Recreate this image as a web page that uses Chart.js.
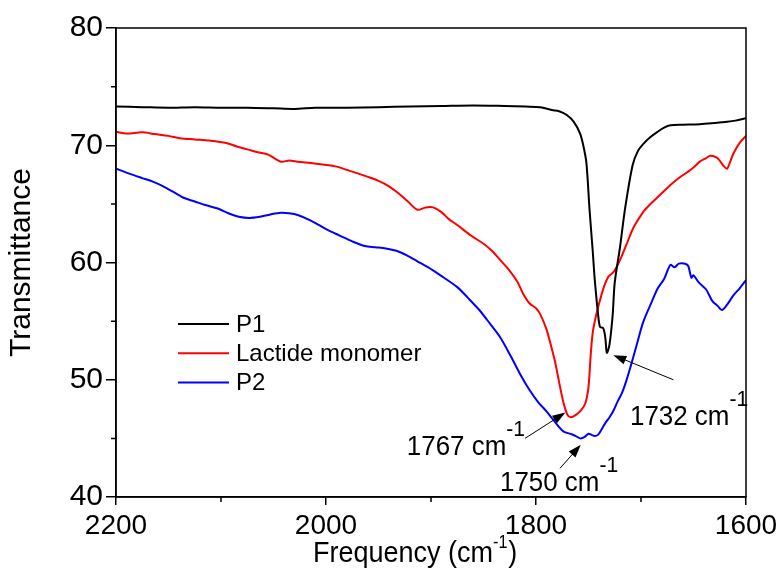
<!DOCTYPE html>
<html>
<head>
<meta charset="utf-8">
<script src="https://cdn.jsdelivr.net/npm/chart.js@4.4.1/dist/chart.umd.min.js"></script>
<style>
  html, body { margin: 0; padding: 0; background: #ffffff; }
  #wrap { width: 783px; height: 575px; }
</style>
</head>
<body>
<div id="wrap"><canvas id="c" width="783" height="575"></canvas></div>
<script>
// ---------------- data ----------------
const seriesNames = ['P1', 'Lactide monomer', 'P2'];

const p1Freq = [2200,2175,2150,2125,2100,2075,2050,2030,2010,1980,1950,1920,1890,1860,1830,1810,1796,1785,1778,1771,1764,1758,1755,1752,1749,1746,1744,1741,1739,1736,1734,1732.5,1730,1727,1725,1720,1715,1708,1703,1698,1691,1685,1678,1672,1660,1644,1630,1618,1610,1600];
const p1T    = [73.3,73.25,73.2,73.25,73.2,73.2,73.15,73.1,73.2,73.2,73.25,73.3,73.35,73.4,73.35,73.3,73.25,73.0,72.9,72.6,72.0,71.0,70.0,68.5,64.5,61.0,58.5,55.7,54.5,54.4,53.6,52.3,53.0,55.5,58.3,61.3,64.7,68.3,69.5,70.1,70.7,71.1,71.5,71.7,71.75,71.8,71.9,72.0,72.1,72.3];

const lacFreq = [2200,2190,2175,2163,2150,2139,2125,2111,2095,2085,2075,2065,2055,2043,2035,2027,2011,1991,1975,1960,1951,1940,1931,1922,1913,1905,1898,1890,1883,1875,1862,1850,1842,1834,1826,1818,1812,1806,1800,1796,1790,1786,1782,1778,1774,1770,1767,1762,1757,1753,1750,1748,1746,1743,1739,1735,1731,1726,1720,1714,1707,1698,1692,1685,1678,1672,1664,1656,1650,1644,1638,1634,1629,1626,1621,1618,1615,1612,1606,1600];
const lacT    = [71.15,71.0,71.1,70.95,70.8,70.6,70.5,70.4,70.2,69.9,69.65,69.4,69.2,68.6,68.7,68.6,68.45,68.2,67.75,67.3,67.0,66.5,65.9,65.2,64.5,64.7,64.7,64.3,63.7,63.2,62.3,61.6,61.0,60.2,59.4,58.4,57.3,56.5,56.1,55.6,54.3,53.0,51.6,49.8,48.1,47.0,46.8,47.0,47.4,48.0,49.4,52.0,54.0,55.4,56.8,58.0,58.8,59.2,60.2,61.5,63.0,64.3,64.9,65.5,66.1,66.6,67.2,67.7,68.1,68.6,68.9,69.1,69.0,68.8,68.2,68.0,68.6,69.3,70.2,70.8];

const p2Freq = [2200,2188,2175,2165,2155,2145,2135,2125,2115,2103,2093,2083,2073,2063,2053,2043,2035,2027,2015,2007,1999,1987,1975,1963,1953,1943,1933,1923,1913,1903,1891,1875,1865,1854,1844,1834,1824,1814,1806,1798,1790,1782,1774,1766,1762,1758,1754,1750,1747,1744,1741,1738,1734,1730,1726,1722,1718,1714,1710,1704,1698,1690,1684,1678,1672,1668,1664,1658,1655,1652,1650,1645,1638,1632,1627,1623,1618,1612,1606,1600];
const p2T    = [68.0,67.6,67.2,66.9,66.5,66.0,65.5,65.2,64.9,64.6,64.2,63.9,63.8,63.9,64.1,64.25,64.2,64.05,63.6,63.2,62.8,62.3,61.8,61.4,61.3,61.2,61.0,60.6,60.1,59.6,58.9,57.9,57.0,55.95,54.8,53.6,52.0,50.3,49.1,48.1,47.3,46.4,45.6,45.35,45.2,45.0,45.1,45.4,45.3,45.2,45.3,45.7,46.3,46.8,47.4,48.2,48.9,49.9,51.1,53.0,54.9,56.6,57.8,58.6,59.8,59.6,59.9,59.9,59.7,58.7,58.9,58.3,57.7,56.7,56.3,55.95,56.4,57.2,57.8,58.5];

const xMajorTicks = [2200, 2000, 1800, 1600];
const xMinorTicks = [2100, 1900, 1700];
const yMajorTicks = [40, 50, 60, 70, 80];
const yMinorTicks = [45, 55, 65, 75];

// peak annotations (data coordinates)
const annNumbers = ['1767', '1750', '1732'];
const annTextAt  = [[1923, 43.6], [1834.3, 40.5], [1710.5, 46.15]];
const annArrowFrom = [[1810.5, 45.0], [1777.1, 42.45], [1669.2, 50.0]];
const annArrowTo   = [[1772, 47.2], [1757.4, 44.45], [1726.4, 52.1]];

// ---------------- chart ----------------
const FONT = "'Liberation Sans', Arial, Helvetica, sans-serif";
const colors = ['#000000', '#ff0000', '#0000ff'];

function pts(fx, ty) { return fx.map((f, i) => ({ x: f, y: ty[i] })); }

function drawSup(ctx, x, y, main, sup, tail, size, supSize, raise, sx) {
  ctx.save();
  ctx.translate(x, y);
  ctx.scale(sx, 1);
  ctx.fillStyle = '#000';
  ctx.textAlign = 'left';
  ctx.textBaseline = 'alphabetic';
  ctx.font = size + 'px ' + FONT;
  ctx.fillText(main, 0, 0);
  let w = ctx.measureText(main).width;
  ctx.font = supSize + 'px ' + FONT;
  ctx.fillText(sup, w, -raise);
  w += ctx.measureText(sup).width;
  if (tail) {
    ctx.font = size + 'px ' + FONT;
    ctx.fillText(tail, w + 1, 0);
  }
  ctx.restore();
}

function drawArrow(ctx, x1, y1, x2, y2) {
  const ang = Math.atan2(y2 - y1, x2 - x1);
  const L = 13, H = 4.5;
  ctx.save();
  ctx.strokeStyle = '#000';
  ctx.fillStyle = '#000';
  ctx.lineWidth = 1;
  ctx.beginPath();
  ctx.moveTo(x1, y1);
  ctx.lineTo(x2 - Math.cos(ang) * (L - 2), y2 - Math.sin(ang) * (L - 2));
  ctx.stroke();
  ctx.beginPath();
  ctx.moveTo(x2, y2);
  ctx.lineTo(x2 - Math.cos(ang) * L - Math.sin(ang) * H, y2 - Math.sin(ang) * L + Math.cos(ang) * H);
  ctx.lineTo(x2 - Math.cos(ang) * L + Math.sin(ang) * H, y2 - Math.sin(ang) * L - Math.cos(ang) * H);
  ctx.closePath();
  ctx.fill();
  ctx.restore();
}

const decor = {
  id: 'decor',
  afterDraw(chart) {
    const ctx = chart.ctx;
    const a = chart.chartArea;
    const xs = chart.scales.x, ys = chart.scales.y;
    ctx.save();
    // frame
    ctx.strokeStyle = '#000';
    ctx.lineWidth = 1.5;
    ctx.strokeRect(a.left, a.top, a.right - a.left, a.bottom - a.top);
    // minor ticks
    ctx.beginPath();
    yMinorTicks.forEach(v => {
      const y = ys.getPixelForValue(v);
      ctx.moveTo(a.left - 5, y); ctx.lineTo(a.left, y);
    });
    xMinorTicks.forEach(v => {
      const x = xs.getPixelForValue(v);
      ctx.moveTo(x, a.bottom); ctx.lineTo(x, a.bottom + 5);
    });
    ctx.stroke();
    ctx.restore();

    // legend
    ctx.save();
    const lx0 = 178, lx1 = 229, ly0 = 324, lstep = 29.3;
    seriesNames.forEach((name, i) => {
      const y = ly0 + i * lstep;
      ctx.strokeStyle = colors[i];
      ctx.lineWidth = 2;
      ctx.beginPath();
      ctx.moveTo(lx0, y); ctx.lineTo(lx1, y);
      ctx.stroke();
      ctx.fillStyle = '#000';
      ctx.font = '24px ' + FONT;
      ctx.textAlign = 'left';
      ctx.textBaseline = 'middle';
      ctx.fillText(name, 236, y + 1);
    });
    ctx.restore();

    // annotations
    annNumbers.forEach((n, i) => {
      const fx = xs.getPixelForValue(annArrowFrom[i][0]);
      const fy = ys.getPixelForValue(annArrowFrom[i][1]);
      const tx = xs.getPixelForValue(annArrowTo[i][0]);
      const ty = ys.getPixelForValue(annArrowTo[i][1]);
      drawArrow(ctx, fx, fy, tx, ty);
      const px = xs.getPixelForValue(annTextAt[i][0]);
      const py = ys.getPixelForValue(annTextAt[i][1]);
      drawSup(ctx, px, py, n + ' cm', '-1', '', 27, 22, 19, 0.96);
    });

    // x-axis title with superscript
    drawSup(ctx, 313, 562, 'Frequency (cm', '-1', ')', 30, 18, 14, 0.9);
  }
};

new Chart(document.getElementById('c'), {
  type: 'line',
  data: {
    datasets: [
      { label: seriesNames[0], data: pts(p1Freq, p1T), borderColor: colors[0], borderWidth: 2, pointRadius: 0, tension: 0.3, fill: false },
      { label: seriesNames[1], data: pts(lacFreq, lacT), borderColor: colors[1], borderWidth: 2, pointRadius: 0, tension: 0.3, fill: false },
      { label: seriesNames[2], data: pts(p2Freq, p2T), borderColor: colors[2], borderWidth: 2, pointRadius: 0, tension: 0.3, fill: false }
    ]
  },
  options: {
    responsive: false,
    animation: false,
    devicePixelRatio: 1,
    layout: { padding: { top: 28, right: 37, left: 0, bottom: 0 } },
    plugins: { legend: { display: false }, tooltip: { enabled: false } },
    scales: {
      x: {
        type: 'linear',
        reverse: true,
        min: 1600, max: 2200,
        afterBuildTicks: s => { s.ticks = xMajorTicks.map(v => ({ value: v })); },
        afterFit: s => { s.height = 78; },
        grid: { display: true, drawOnChartArea: false, drawTicks: true, tickLength: 8, color: '#000', lineWidth: 1.5 },
        border: { display: true, color: '#000', width: 1.5 },
        ticks: { color: '#000', font: { family: FONT, size: 28 }, padding: 4, maxRotation: 0, autoSkip: false, callback: v => String(v) },
        title: { display: false }
      },
      y: {
        type: 'linear',
        min: 40, max: 80,
        afterBuildTicks: s => { s.ticks = yMajorTicks.map(v => ({ value: v })); },
        afterFit: s => { s.width = 116; },
        grid: { display: true, drawOnChartArea: false, drawTicks: true, tickLength: 10, color: '#000', lineWidth: 1.5 },
        border: { display: true, color: '#000', width: 1.5 },
        ticks: { color: '#000', font: { family: FONT, size: 30 }, padding: 3, autoSkip: false, callback: v => String(v) },
        title: { display: true, text: 'Transmittance', color: '#000', font: { family: FONT, size: 30 }, padding: { top: 4, bottom: 0 } }
      }
    }
  },
  plugins: [decor]
});
</script>
</body>
</html>
